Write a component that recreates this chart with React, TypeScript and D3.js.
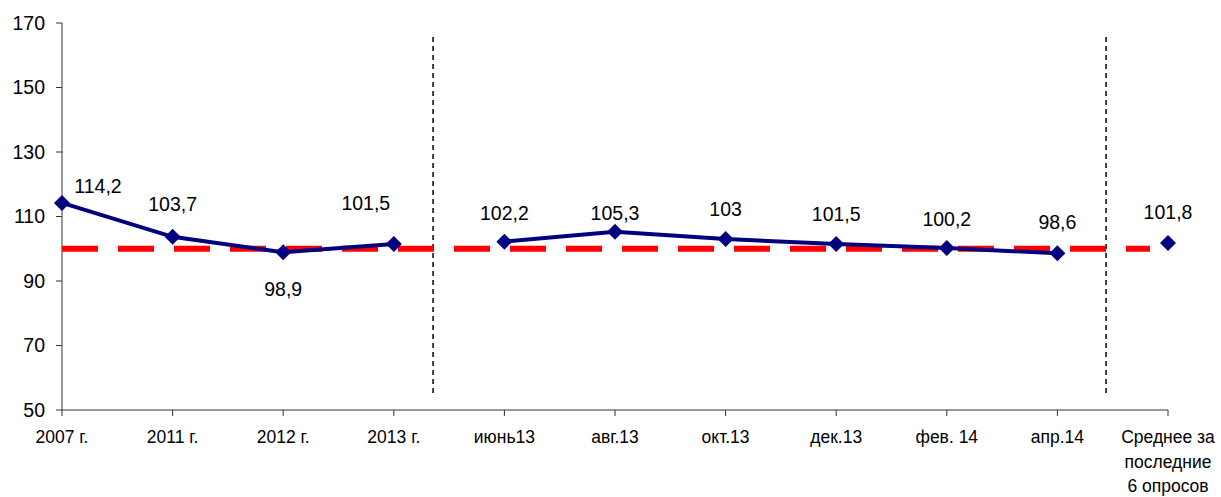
import React from "react";
import * as d3 from "d3";

// Categories and values
const categories = [
  "2007 г.", "2011 г.", "2012 г.", "2013 г.", "июнь13", "авг.13",
  "окт.13", "дек.13", "фев. 14", "апр.14", "Среднее за\nпоследние\n6 опросов",
];
const values = [114.2, 103.7, 98.9, 101.5, 102.2, 105.3, 103, 101.5, 100.2, 98.6, 101.8];
const valueLabels = ["114,2", "103,7", "98,9", "101,5", "102,2", "105,3", "103", "101,5", "100,2", "98,6", "101,8"];
// line segments (indices into categories)
const segments = [[0, 1, 2, 3], [4, 5, 6, 7, 8, 9]];
const yTicks = [50, 70, 90, 110, 130, 150, 170];
const baseline = 100;
const dividers = [3.355, 9.44];

// label offsets (dx, dy from point), styling only
const labelOffsets: [number, number][] = [
  [36, -17], [0, -33], [0, 37], [-28, -41], [0, -28], [0, -18],
  [0, -30], [0, -30], [0, -29], [0, -31], [0, -31],
];

export default function App() {
  const width = 1221;
  const height = 497;
  const x = d3.scalePoint<number>().domain(d3.range(categories.length)).range([62, 1168]);
  const y = d3.scaleLinear().domain([50, 170]).range([410, 23]);
  const line = d3.line<number>().x((i) => x(i)!).y((i) => y(values[i]));
  const step = x.step();
  const font = "Liberation Sans, Arial, sans-serif";
  const diamond = "M0,-8L8,0L0,8L-8,0Z";

  return (
    <svg width={width} height={height} style={{ position: "absolute", left: 0, top: 0 }} fontFamily={font}>
      {/* y axis */}
      <line x1={62} x2={62} y1={y(170)} y2={y(50)} stroke="#333" strokeWidth={1} />
      {yTicks.map((t) => (
        <g key={t}>
          <line x1={56} x2={62} y1={y(t)} y2={y(t)} stroke="#333" />
          <text x={45} y={y(t)} dy="0.35em" textAnchor="end" fontSize={19.5} fill="#000">{t}</text>
        </g>
      ))}
      {/* x axis */}
      <line x1={62} x2={1168} y1={y(50)} y2={y(50)} stroke="#333" />
      {categories.map((c, i) => (
        <g key={i}>
          <line x1={x(i)} x2={x(i)} y1={y(50)} y2={y(50) + 6} stroke="#333" />
          <text x={x(i)} y={y(50) + 33} textAnchor="middle" fontSize={17.5} fill="#000">
            {c.split("\n").map((s, k) => (
              <tspan key={k} x={x(i)} dy={k === 0 ? 0 : 24.5}>{s}</tspan>
            ))}
          </text>
        </g>
      ))}
      {/* vertical dividers */}
      {dividers.map((d, i) => (
        <line key={i} x1={62 + d * step} x2={62 + d * step} y1={37} y2={396}
          stroke="#000" strokeWidth={1.5} strokeDasharray="5,4" />
      ))}
      {/* red baseline */}
      <line x1={62} x2={1150} y1={y(baseline)} y2={y(baseline)} stroke="#ff0000" strokeWidth={6}
        strokeDasharray="36,20" />
      {/* series lines */}
      {segments.map((s, i) => (
        <path key={i} d={line(s) ?? ""} fill="none" stroke="#000080" strokeWidth={4} />
      ))}
      {/* markers */}
      {values.map((v, i) => (
        <path key={i} d={diamond} transform={`translate(${x(i)},${y(v)})`} fill="#000080" />
      ))}
      {/* value labels */}
      {values.map((v, i) => (
        <text key={i} x={x(i)! + labelOffsets[i][0]} y={y(v) + labelOffsets[i][1]} dy="0.35em"
          textAnchor="middle" fontSize={19.5} fill="#000">{valueLabels[i]}</text>
      ))}
    </svg>
  );
}
